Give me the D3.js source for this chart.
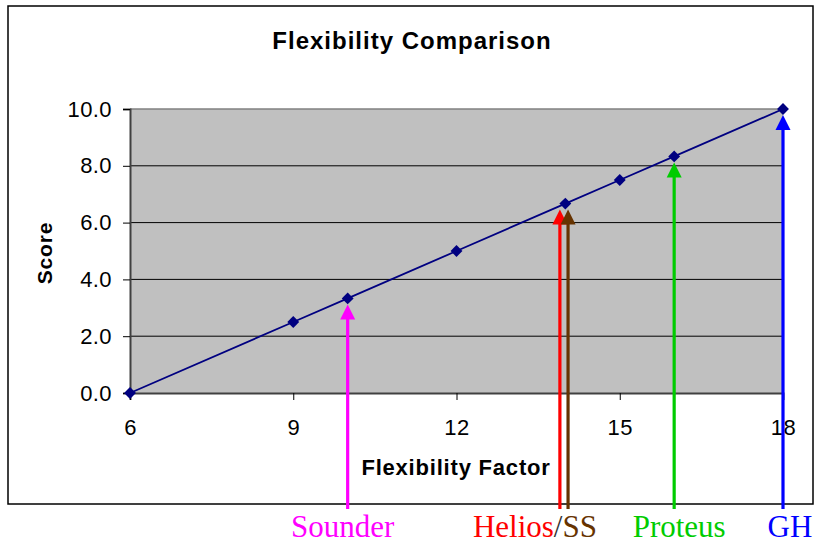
<!DOCTYPE html>
<html><head><meta charset="utf-8">
<script src="https://cdn.jsdelivr.net/npm/d3@7"></script>
<style>
html,body{margin:0;padding:0;background:#fff;}
svg{display:block;}
</style></head>
<body>
<svg id="chart" width="818" height="543"></svg>
<script>
// ---- data ----
const factors = [6, 9, 10, 12, 14, 15, 16, 18];
const scores  = [0, 2.5, 3.33, 5, 6.67, 7.5, 8.33, 10];
const xTicks = [6, 9, 12, 15, 18];
const yTicks = [0, 2, 4, 6, 8, 10];
const arrowNames  = ["Sounder", "Helios", "SS", "Proteus", "GH"];
const arrowX      = [10, 13.9, 14.05, 16, 18];
const arrowScore  = [3.33, 6.67, 6.67, 8.33, 10];
const arrowColors = ["#FF00FF", "#FF0000", "#663300", "#00CC00", "#0000FF"];
const titleText = "Flexibility Comparison";
const xTitle = "Flexibility Factor";
const yTitle = "Score";

// ---- layout ----
const svg = d3.select("#chart");
const L = 130, R = 783, T = 109, B = 393;
const x = d3.scaleLinear().domain([6, 18]).range([L, R]);
const y = d3.scaleLinear().domain([0, 10]).range([B, T]);

// outer border
svg.append("rect").attr("x", 8).attr("y", 6).attr("width", 805).attr("height", 498)
  .attr("fill", "#fff").attr("stroke", "#000").attr("stroke-width", 1.5);

// plot area
svg.append("rect").attr("x", L).attr("y", T).attr("width", R - L).attr("height", B - T)
  .attr("fill", "#C0C0C0");

// gridlines
svg.append("g").selectAll("line").data(yTicks.filter(d => d > 0 && d < 10)).join("line")
  .attr("x1", L).attr("x2", R).attr("y1", d => y(d)).attr("y2", d => y(d))
  .attr("stroke", "#000").attr("stroke-width", 1);
svg.append("line").attr("x1", L).attr("x2", R).attr("y1", T).attr("y2", T)
  .attr("stroke", "#808080").attr("stroke-width", 1.5);

const fontSans = "'Liberation Sans', Arial, sans-serif";

// y axis
const yAxis = svg.append("g").attr("transform", `translate(${L},0)`)
  .call(d3.axisLeft(y).tickValues(yTicks).tickFormat(d3.format(".1f")).tickSize(7).tickPadding(11));
yAxis.select(".domain").attr("stroke", "#404040").attr("stroke-width", 2);
yAxis.selectAll(".tick line").attr("stroke", "#000");
yAxis.selectAll("text").attr("font-family", fontSans).attr("font-size", 22)
  .attr("letter-spacing", "0.4px").attr("fill", "#000");

// x axis
const xAxis = svg.append("g").attr("transform", `translate(0,${B})`)
  .call(d3.axisBottom(x).tickValues(xTicks).tickFormat(d3.format("d")).tickSize(7).tickPadding(19));
xAxis.select(".domain").attr("stroke", "#404040").attr("stroke-width", 2);
xAxis.selectAll(".tick line").attr("stroke", "#000");
xAxis.selectAll("text").attr("font-family", fontSans).attr("font-size", 22)
  .attr("letter-spacing", "0.4px").attr("fill", "#000");

// line
const pts = factors.map((f, i) => [f, scores[i]]);
svg.append("path").datum(pts)
  .attr("d", d3.line().x(d => x(d[0])).y(d => y(d[1])))
  .attr("fill", "none").attr("stroke", "#000080").attr("stroke-width", 1.8);

// markers
svg.append("g").selectAll("path").data(pts).join("path")
  .attr("transform", d => `translate(${x(d[0])},${y(d[1])}) rotate(45)`)
  .attr("d", "M-4.2,-4.2H4.2V4.2H-4.2Z")
  .attr("fill", "#000080");

// arrows
const arrowBottom = 509;
const ag = svg.append("g");
arrowNames.forEach((n, i) => {
  const ax = x(arrowX[i]);
  const tip = y(arrowScore[i]) + 6;
  const headH = 15, headW = 7.5;
  ag.append("line").attr("x1", ax).attr("x2", ax).attr("y1", arrowBottom).attr("y2", tip + headH - 1)
    .attr("stroke", arrowColors[i]).attr("stroke-width", 3.2);
  ag.append("path")
    .attr("d", `M${ax},${tip} L${ax + headW},${tip + headH} L${ax - headW},${tip + headH} Z`)
    .attr("fill", arrowColors[i]);
});

// arrow labels
const serif = "'Liberation Serif', 'Times New Roman', serif";
const lab = svg.append("g").attr("font-family", serif).attr("font-size", 31);
lab.append("text").attr("x", x(arrowX[0]) - 5).attr("y", 537).attr("text-anchor", "middle")
  .attr("fill", arrowColors[0]).text(arrowNames[0]);
const hs = lab.append("text").attr("x", x(arrowX[1]) - 87).attr("y", 537);
hs.append("tspan").attr("fill", arrowColors[1]).text(arrowNames[1]);
hs.append("tspan").attr("fill", "#333").text("/");
hs.append("tspan").attr("fill", arrowColors[2]).text(arrowNames[2]);
lab.append("text").attr("x", x(arrowX[3]) + 5).attr("y", 537).attr("text-anchor", "middle")
  .attr("fill", arrowColors[3]).text(arrowNames[3]);
lab.append("text").attr("x", x(arrowX[4]) + 7).attr("y", 537).attr("text-anchor", "middle")
  .attr("fill", arrowColors[4]).text(arrowNames[4]);

// titles
svg.append("text").attr("x", 412).attr("y", 49).attr("text-anchor", "middle")
  .attr("font-family", fontSans).attr("font-weight", "bold").attr("font-size", 24)
  .attr("letter-spacing", "1px").text(titleText);
svg.append("text").attr("x", 456).attr("y", 475).attr("text-anchor", "middle")
  .attr("font-family", fontSans).attr("font-weight", "bold").attr("font-size", 22)
  .attr("letter-spacing", "0.8px").text(xTitle);
svg.append("text").attr("transform", "translate(52,253) rotate(-90)").attr("text-anchor", "middle")
  .attr("font-family", fontSans).attr("font-weight", "bold").attr("font-size", 21)
  .attr("letter-spacing", "0.8px").text(yTitle);
</script>
</body></html>
